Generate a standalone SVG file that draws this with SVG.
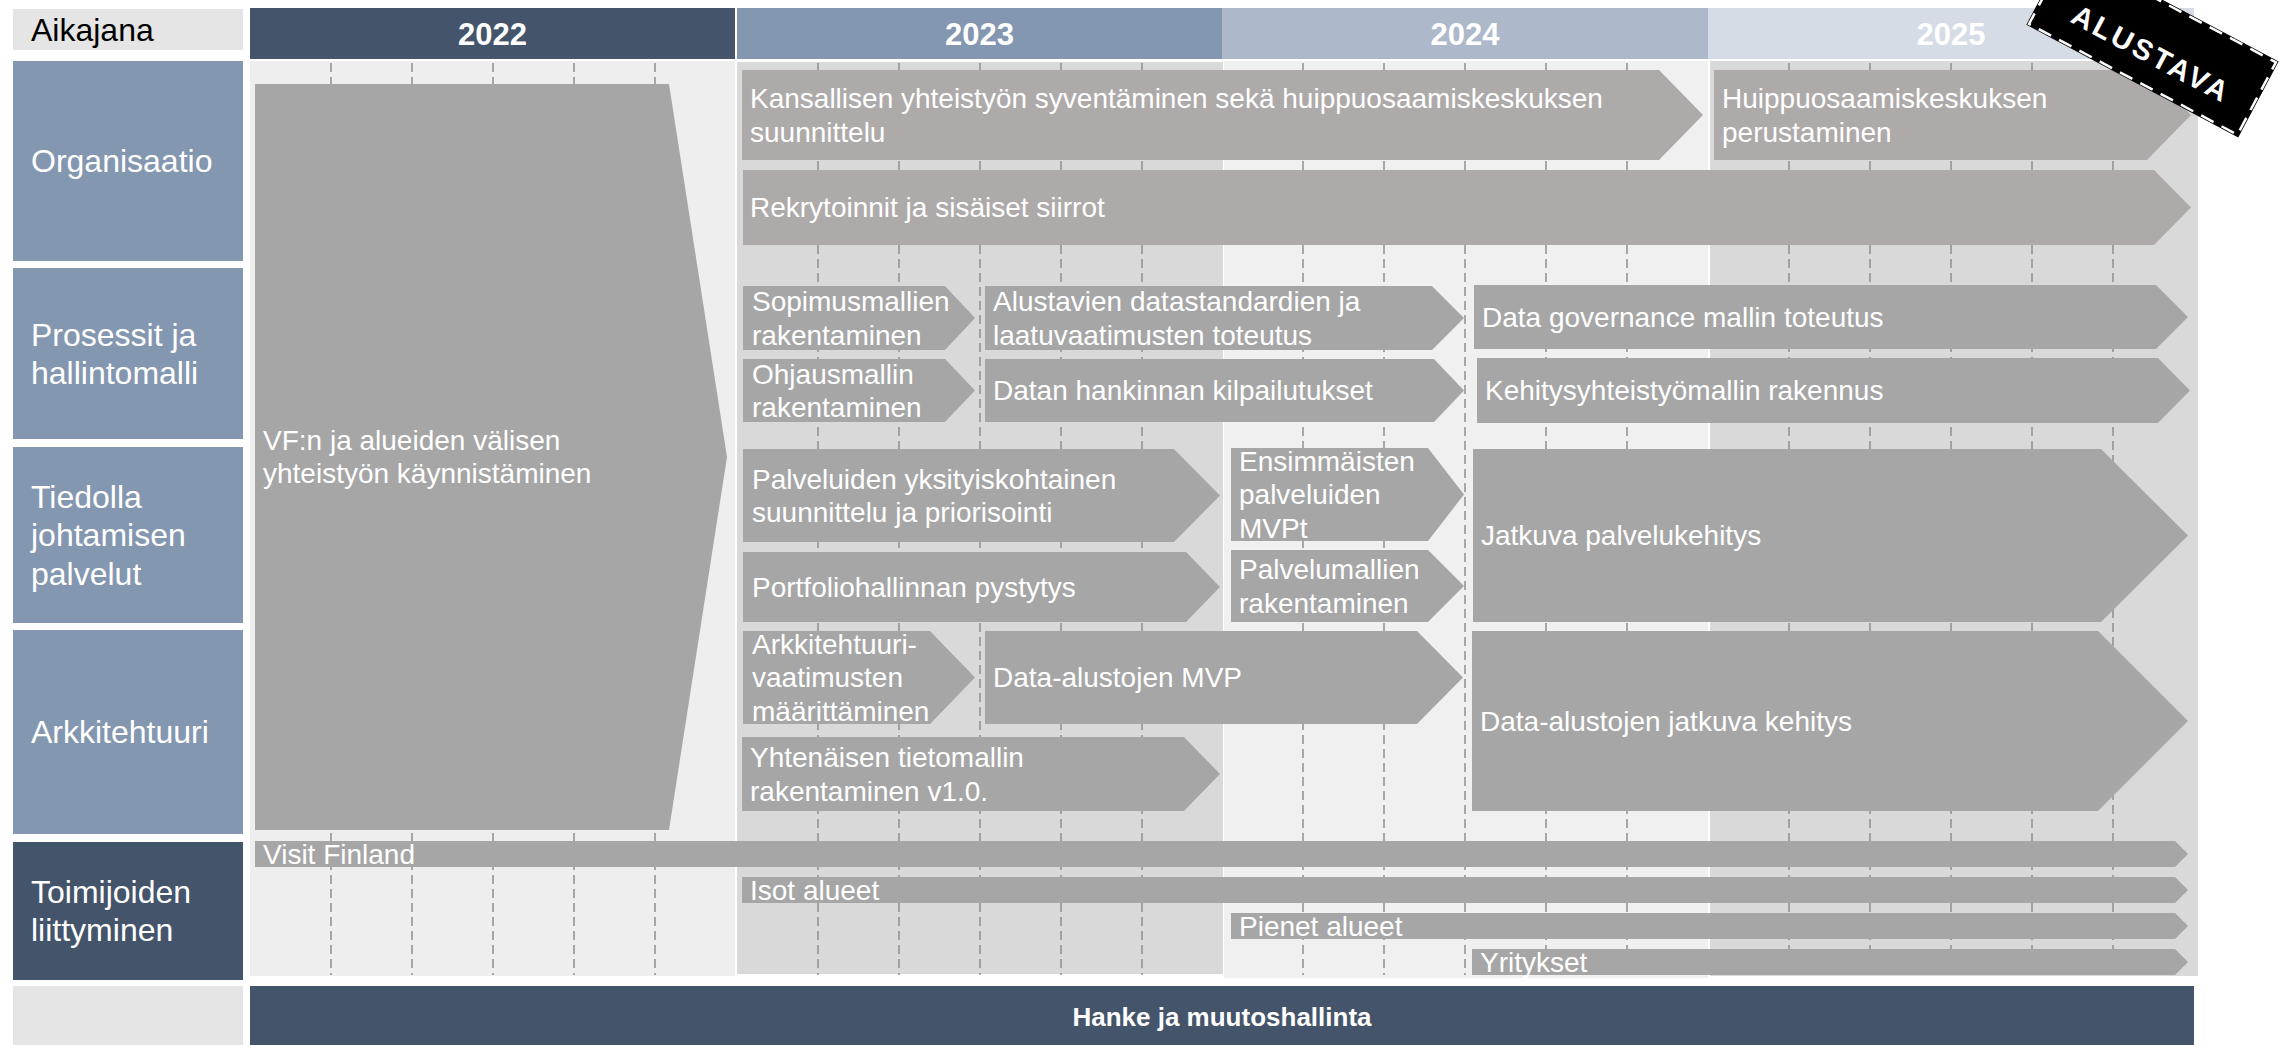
<svg xmlns="http://www.w3.org/2000/svg" width="2292" height="1045" viewBox="0 0 2292 1045">
<style>
text{font-family:"Liberation Sans",Arial,sans-serif;}
.lbl{font-size:32px;fill:#ffffff;}
.hdr{font-size:31px;font-weight:bold;fill:#ffffff;text-anchor:middle;}
.t{font-size:28px;fill:#ffffff;}
.a{fill:#a6a6a6;}
.w{fill:#aeaaaa;}
.tick{stroke:#8f8f8f;stroke-width:1.5;stroke-dasharray:9 5;fill:none;}
</style>
<rect width="2292" height="1045" fill="#ffffff"/>

<!-- column backgrounds -->
<g id="columns">
<rect x="250" y="61" width="485" height="915" fill="#eeeeee"/>
<rect x="737" y="62" width="486" height="912" fill="#d9d9d9"/>
<rect x="1224" y="61" width="484" height="917" fill="#f0f0f0"/>
<rect x="1710" y="61" width="488" height="915" fill="#d9d9d9"/>
</g>

<!-- headers -->
<g id="header-aikajana"><rect x="13" y="9" width="230" height="41" fill="#e5e5e5"/><text x="31" y="41" font-size="32" fill="#000000">Aikajana</text></g>
<g id="header-2022"><rect x="250" y="8" width="485" height="51" fill="#44546a"/><text class="hdr" x="492.5" y="45">2022</text></g>
<g id="header-2023"><rect x="737" y="8" width="485" height="51" fill="#8497b0"/><text class="hdr" x="979.5" y="45">2023</text></g>
<g id="header-2024"><rect x="1222" y="8" width="486" height="51" fill="#adb9ca"/><text class="hdr" x="1465" y="45">2024</text></g>
<g id="header-2025"><rect x="1708" y="8" width="486" height="51" fill="#d6dce5"/><text class="hdr" x="1951" y="45">2025</text></g>

<!-- row labels -->
<g id="row-organisaatio"><rect x="13" y="61" width="230" height="200" fill="#8497b0"/><text class="lbl" x="31" y="172">Organisaatio</text></g>
<g id="row-prosessit"><rect x="13" y="268" width="230" height="171" fill="#8497b0"/><text class="lbl" x="31" y="346">Prosessit ja</text><text class="lbl" x="31" y="384">hallintomalli</text></g>
<g id="row-tiedolla"><rect x="13" y="447" width="230" height="176" fill="#8497b0"/><text class="lbl" x="31" y="508">Tiedolla</text><text class="lbl" x="31" y="546">johtamisen</text><text class="lbl" x="31" y="585">palvelut</text></g>
<g id="row-arkkitehtuuri"><rect x="13" y="630" width="230" height="204" fill="#8497b0"/><text class="lbl" x="31" y="743">Arkkitehtuuri</text></g>
<g id="row-toimijoiden"><rect x="13" y="842" width="230" height="138" fill="#44546a"/><text class="lbl" x="31" y="903">Toimijoiden</text><text class="lbl" x="31" y="941">liittyminen</text></g>
<g id="row-empty"><rect x="13" y="986" width="230" height="59" fill="#e5e5e5"/></g>

<!-- grid ticks -->
<g id="grid">
<path class="tick" d="M331 63V975M412 63V975M493 63V975M574 63V975M655 63V975M818 63V975M899 63V975M980 63V975M1061 63V975M1142 63V975M1303 63V975M1384 63V975M1465 63V975M1546 63V975M1627 63V975M1789 63V975M1870 63V975M1951 63V975M2032 63V975M2113 63V975"/>
</g>
<g id="connectors"></g>

<!-- activity nodes -->
<g id="n-vf"><polygon class="a" points="255,84 669,84 727,457 669,830 255,830"/><text class="t" x="263" y="450">VF:n ja alueiden välisen</text><text class="t" x="263" y="483">yhteistyön käynnistäminen</text></g>

<g id="n-kansallisen"><polygon class="w" points="742,70 1659,70 1703,115 1659,160 742,160"/><text class="t" x="750" y="108">Kansallisen yhteistyön syventäminen sekä huippuosaamiskeskuksen</text><text class="t" x="750" y="142">suunnittelu</text></g>
<g id="n-huippu"><polygon class="w" points="1714,70 2147,70 2191,115 2147,160 1714,160"/><text class="t" x="1722" y="108">Huippuosaamiskeskuksen</text><text class="t" x="1722" y="142">perustaminen</text></g>
<g id="n-rekry"><polygon class="w" points="743,170 2154,170 2191,207.5 2154,245 743,245"/><text class="t" x="750" y="217">Rekrytoinnit ja sisäiset siirrot</text></g>

<g id="n-sopimus"><polygon class="a" points="743,286 945,286 975,318 945,350 743,350"/><text class="t" x="752" y="311">Sopimusmallien</text><text class="t" x="752" y="345">rakentaminen</text></g>
<g id="n-alustavien"><polygon class="a" points="985,286 1432,286 1464,318 1432,350 985,350"/><text class="t" x="993" y="311">Alustavien datastandardien ja</text><text class="t" x="993" y="345">laatuvaatimusten toteutus</text></g>
<g id="n-governance"><polygon class="a" points="1474,285 2156,285 2188,317 2156,349 1474,349"/><text class="t" x="1482" y="327">Data governance mallin toteutus</text></g>

<g id="n-ohjaus"><polygon class="a" points="743,359 945,359 975,390.5 945,422 743,422"/><text class="t" x="752" y="384">Ohjausmallin</text><text class="t" x="752" y="417">rakentaminen</text></g>
<g id="n-datan"><polygon class="a" points="985,359 1434,359 1464,390.5 1434,422 985,422"/><text class="t" x="993" y="400">Datan hankinnan kilpailutukset</text></g>
<g id="n-kehitys"><polygon class="a" points="1477,358 2158,358 2190,390.5 2158,423 1477,423"/><text class="t" x="1485" y="400">Kehitysyhteistyömallin rakennus</text></g>

<g id="n-palveluiden"><polygon class="a" points="743,449 1174,449 1220,495.5 1174,542 743,542"/><text class="t" x="752" y="489">Palveluiden yksityiskohtainen</text><text class="t" x="752" y="522">suunnittelu ja priorisointi</text></g>
<g id="n-ensimmaisten"><polygon class="a" points="1231,448 1428,448 1464,494.5 1428,541 1231,541"/><text class="t" x="1239" y="471">Ensimmäisten</text><text class="t" x="1239" y="504">palveluiden</text><text class="t" x="1239" y="538">MVPt</text></g>
<g id="n-jatkuva"><polygon class="a" points="1473,449 2101,449 2188,535.5 2101,622 1473,622"/><text class="t" x="1481" y="545">Jatkuva palvelukehitys</text></g>
<g id="n-portfolio"><polygon class="a" points="743,552 1186,552 1220,587 1186,622 743,622"/><text class="t" x="752" y="597">Portfoliohallinnan pystytys</text></g>
<g id="n-palvelumallien"><polygon class="a" points="1231,550 1428,550 1464,586 1428,622 1231,622"/><text class="t" x="1239" y="579">Palvelumallien</text><text class="t" x="1239" y="613">rakentaminen</text></g>

<g id="n-arkkitehtuurivaat"><polygon class="a" points="743,631 930,631 975,677.5 930,724 743,724"/><text class="t" x="752" y="654">Arkkitehtuuri-</text><text class="t" x="752" y="687">vaatimusten</text><text class="t" x="752" y="721">määrittäminen</text></g>
<g id="n-mvp"><polygon class="a" points="985,631 1417,631 1463,677.5 1417,724 985,724"/><text class="t" x="993" y="687">Data-alustojen MVP</text></g>
<g id="n-alustojen-kehitys"><polygon class="a" points="1472,631 2098,631 2188,721 2098,811 1472,811"/><text class="t" x="1480" y="731">Data-alustojen jatkuva kehitys</text></g>
<g id="n-tietomalli"><polygon class="a" points="742,737 1184,737 1220,774 1184,811 742,811"/><text class="t" x="750" y="767">Yhtenäisen tietomallin</text><text class="t" x="750" y="801">rakentaminen v1.0.</text></g>

<g id="n-visit"><polygon class="a" points="255,841 2175,841 2188,854 2175,867 255,867"/><text class="t" x="263" y="864">Visit Finland</text></g>
<g id="n-isot"><polygon class="a" points="742,877 2175,877 2188,890 2175,903 742,903"/><text class="t" x="750" y="900">Isot alueet</text></g>
<g id="n-pienet"><polygon class="a" points="1231,913 2175,913 2188,926 2175,939 1231,939"/><text class="t" x="1239" y="936">Pienet alueet</text></g>
<g id="n-yritykset"><polygon class="a" points="1472,949 2175,949 2188,962 2175,975 1472,975"/><text class="t" x="1480" y="972">Yritykset</text></g>

<g id="n-hanke"><rect x="250" y="986" width="1944" height="59" fill="#44546a"/><text x="1222" y="1026" font-size="26" font-weight="bold" fill="#ffffff" text-anchor="middle">Hanke ja muutoshallinta</text></g>

<g id="stamp" transform="translate(2152,44) rotate(28)">
<rect x="-118" y="-42" width="236" height="82" fill="#000000" stroke="#000000" stroke-width="4"/>
<rect x="-118" y="-42" width="236" height="82" fill="none" stroke="#ffffff" stroke-width="2.5" stroke-dasharray="14 9"/>
<text x="4" y="19" font-size="29" font-weight="bold" fill="#ffffff" text-anchor="middle" letter-spacing="3">ALUSTAVA</text>
</g>
</svg>
